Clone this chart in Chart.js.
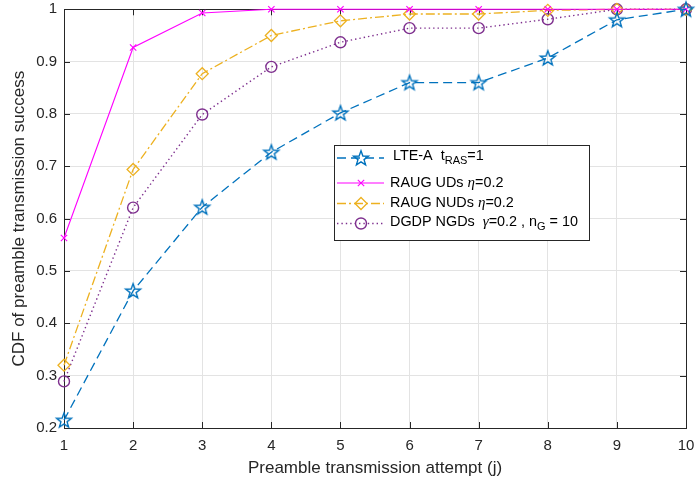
<!DOCTYPE html>
<html>
<head>
<meta charset="utf-8">
<script src="https://cdn.jsdelivr.net/npm/chart.js@4/dist/chart.umd.min.js"></script>
<style>
  html, body { margin: 0; padding: 0; background: #fff; }
  #wrap { width: 696px; height: 482px; position: relative; }
</style>
</head>
<body>
<div id="wrap"><canvas id="cdfChart"></canvas></div>
<script>
// attempts on the x axis
const attempts = [1, 2, 3, 4, 5, 6, 7, 8, 9, 10];

// CDF per scheme
const lteA     = [0.215, 0.462, 0.622, 0.727, 0.802, 0.860, 0.860, 0.907, 0.980, 1.000];
const raugUDs  = [0.563, 0.927, 0.993, 1.000, 1.000, 1.000, 1.000, 1.000, 1.000, 1.000];
const raugNUDs = [0.320, 0.694, 0.877, 0.950, 0.978, 0.991, 0.991, 0.998, 1.000, 1.000];
const dgdpNGDs = [0.289, 0.621, 0.799, 0.890, 0.937, 0.964, 0.964, 0.981, 1.000, 1.000];

const yTicks = [0.2, 0.3, 0.4, 0.5, 0.6, 0.7, 0.8, 0.9, 1];

const BLUE = '#0072BD', MAGENTA = '#FF00FF', YELLOW = '#EDB120', PURPLE = '#7E2F8E';
const FONT = '"Liberation Sans", Arial, sans-serif';
const TICK_SIZE = 15, LABEL_SIZE = 17, LEGEND_SIZE = 14.4;

// pentagram marker (outline only)
function makeStar(color) {
    const c = document.createElement('canvas');
    c.width = 20; c.height = 20;
    const g = c.getContext('2d');
    g.strokeStyle = color;
    g.lineWidth = 1.4;
    g.beginPath();
    for (let i = 0; i < 10; i++) {
        const r = i % 2 === 0 ? 7.8 : 3.2;
        const a = -Math.PI / 2 + i * Math.PI / 5;
        const px = 10 + r * Math.cos(a), py = 10.6 + r * Math.sin(a);
        if (i === 0) g.moveTo(px, py); else g.lineTo(px, py);
    }
    g.closePath();
    g.stroke();
    return c;
}
const starImg = makeStar(BLUE);

function toXY(vals) {
    return vals.map((v, i) => ({ x: attempts[i], y: v }));
}

// box, inward ticks
const framePlugin = {
    id: 'frame',
    beforeDatasetsDraw(chart) {
        const { ctx, chartArea: a, scales } = chart;
        ctx.save();
        ctx.strokeStyle = '#262626';
        ctx.lineWidth = 1;
        ctx.beginPath();
        const t = 6;
        attempts.forEach(v => {
            const x = Math.round(scales.x.getPixelForValue(v)) + 0.5;
            ctx.moveTo(x, a.bottom); ctx.lineTo(x, a.bottom - t);
            ctx.moveTo(x, a.top); ctx.lineTo(x, a.top + t);
        });
        yTicks.forEach(v => {
            const y = Math.round(scales.y.getPixelForValue(v)) + 0.5;
            ctx.moveTo(a.left, y); ctx.lineTo(a.left + t, y);
            ctx.moveTo(a.right, y); ctx.lineTo(a.right - t, y);
        });
        ctx.stroke();
        ctx.strokeRect(Math.round(a.left) + 0.5, Math.round(a.top) + 0.5,
            Math.round(a.right - a.left), Math.round(a.bottom - a.top));
        ctx.restore();
    }
};

// text with subscripts and greek letters
function drawRich(ctx, x, y, parts) {
    parts.forEach(p => {
        if (p.sub) {
            ctx.font = '11px ' + FONT;
            ctx.fillText(p.t, x, y + 5);
        } else if (p.greek) {
            ctx.font = 'italic 15px "Liberation Serif", "DejaVu Serif", serif';
            ctx.fillText(p.t, x, y);
        } else {
            ctx.font = LEGEND_SIZE + 'px ' + FONT;
            ctx.fillText(p.t, x, y);
        }
        x += ctx.measureText(p.t).width;
    });
}

const legendRows = [
    { ds: 0, y: 158, ty: 156, tx: 393, parts: [{ t: 'LTE-A  t' }, { t: 'RAS', sub: true }, { t: '=1' }] },
    { ds: 1, y: 183, ty: 183, tx: 390, parts: [{ t: 'RAUG UDs ' }, { t: 'η', greek: true }, { t: '=0.2' }] },
    { ds: 2, y: 203.5, ty: 203.5, tx: 390, parts: [{ t: 'RAUG NUDs ' }, { t: 'η', greek: true }, { t: '=0.2' }] },
    { ds: 3, y: 223.5, ty: 222, tx: 390, parts: [{ t: 'DGDP NGDs  ' }, { t: 'γ', greek: true }, { t: '=0.2 , n' }, { t: 'G', sub: true }, { t: ' = 10' }] }
];

const legendPlugin = {
    id: 'boxLegend',
    afterDraw(chart) {
        const ctx = chart.ctx;
        ctx.save();
        ctx.fillStyle = '#fff';
        ctx.fillRect(334, 145, 255, 95);
        ctx.strokeStyle = '#262626';
        ctx.lineWidth = 1;
        ctx.strokeRect(334.5, 145.5, 255, 95);
        legendRows.forEach(r => {
            const ds = chart.data.datasets[r.ds];
            ctx.strokeStyle = ds.borderColor;
            ctx.lineWidth = ds.borderWidth;
            ctx.setLineDash(ds.borderDash || []);
            ctx.beginPath();
            ctx.moveTo(337, r.y); ctx.lineTo(384, r.y);
            ctx.stroke();
            ctx.setLineDash([]);
            ctx.fillStyle = 'rgba(0,0,0,0)';
            ctx.strokeStyle = ds.pointBorderColor;
            ctx.lineWidth = ds.pointBorderWidth;
            Chart.helpers.drawPoint(ctx, {
                pointStyle: ds.pointStyle, radius: ds.pointRadius,
                borderWidth: ds.pointBorderWidth, rotation: 0
            }, 361, r.y);
            ctx.fillStyle = '#000';
            ctx.textBaseline = 'middle';
            drawRich(ctx, r.tx, r.ty, r.parts);
        });
        ctx.restore();
    }
};

// drop the label overhang padding so the plot box fills the canvas
function noOverhang(s) {
    s.paddingTop = 0; s.paddingBottom = 0;
    s.paddingLeft = 0; s.paddingRight = 0;
}

const ctx = document.getElementById('cdfChart').getContext('2d');
const cdfChart = new Chart(ctx, {
    type: 'line',
    data: {
        datasets: [{
            label: 'LTE-A',
            data: toXY(lteA),
            borderColor: BLUE,
            backgroundColor: 'rgba(0,0,0,0)',
            borderWidth: 1.3,
            borderDash: [9, 5],
            pointStyle: starImg,
            pointRadius: 8,
            pointBorderWidth: 1.3,
            pointBorderColor: BLUE,
            clip: false
        }, {
            label: 'RAUG UDs',
            data: toXY(raugUDs),
            borderColor: MAGENTA,
            backgroundColor: 'rgba(0,0,0,0)',
            borderWidth: 1.1,
            pointStyle: 'crossRot',
            pointRadius: 4.5,
            pointBorderWidth: 1.1,
            pointBorderColor: MAGENTA,
            clip: false
        }, {
            label: 'RAUG NUDs',
            data: toXY(raugNUDs),
            borderColor: YELLOW,
            backgroundColor: 'rgba(0,0,0,0)',
            borderWidth: 1.3,
            borderDash: [9, 3, 2, 3],
            pointStyle: 'rectRot',
            pointRadius: 6,
            pointBorderWidth: 1.3,
            pointBorderColor: YELLOW,
            clip: false
        }, {
            label: 'DGDP NGDs',
            data: toXY(dgdpNGDs),
            borderColor: PURPLE,
            backgroundColor: 'rgba(0,0,0,0)',
            borderWidth: 1.4,
            borderDash: [1.4, 3],
            pointStyle: 'circle',
            pointRadius: 5.5,
            pointBorderWidth: 1.4,
            pointBorderColor: PURPLE,
            clip: false
        }]
    },
    options: {
        responsive: true,
        maintainAspectRatio: false,
        animation: false,
        events: [],
        layout: { padding: { top: 7, right: 10, left: 0, bottom: 0 } },
        plugins: { legend: { display: false }, tooltip: { enabled: false } },
        scales: {
            x: {
                type: 'linear',
                min: 1, max: 10,
                afterFit: s => { s.height = 54; noOverhang(s); },
                afterBuildTicks: s => { s.ticks = attempts.map(v => ({ value: v })); },
                grid: { color: '#e3e3e3', drawTicks: false },
                border: { display: false },
                ticks: { color: '#262626', padding: 9, font: { family: FONT, size: TICK_SIZE } },
                title: {
                    display: true, text: 'Preamble transmission attempt (j)', color: '#262626',
                    font: { family: FONT, size: LABEL_SIZE }, padding: { top: 0, bottom: 3 }
                }
            },
            y: {
                min: 0.2, max: 1,
                afterFit: s => { s.width = 64; noOverhang(s); },
                afterBuildTicks: s => { s.ticks = yTicks.map(v => ({ value: v })); },
                grid: { color: '#e3e3e3', drawTicks: false },
                border: { display: false },
                ticks: {
                    color: '#262626', padding: 7, font: { family: FONT, size: TICK_SIZE },
                    callback: v => String(+v.toFixed(1))
                },
                title: {
                    display: true, text: 'CDF of preamble transmission success', color: '#262626',
                    font: { family: FONT, size: LABEL_SIZE }, padding: { top: 9, bottom: 0 }
                }
            }
        }
    },
    plugins: [framePlugin, legendPlugin]
});
</script>
</body>
</html>
